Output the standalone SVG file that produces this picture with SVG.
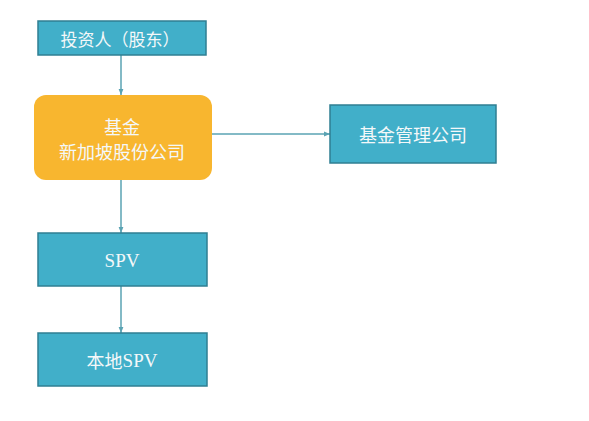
<svg xmlns="http://www.w3.org/2000/svg" width="589" height="421" viewBox="0 0 589 421">
<defs>
<marker id="ah" viewBox="0 0 10 10" refX="10" refY="5" markerWidth="6" markerHeight="6" markerUnits="userSpaceOnUse" orient="auto">
<path d="M0,1 L10,5 L0,9 z" fill="#5aa3b3"/>
</marker>
<style>
.box{fill:#41AFC9;stroke:#2f7f92;stroke-width:1.5}
.org{fill:#F8B62F}
.t{font-family:"Noto Sans CJK SC","Liberation Sans",sans-serif;font-size:18px;fill:#f4f8f9;text-anchor:middle;dominant-baseline:central}
.s{font-family:"Liberation Serif","Noto Sans CJK SC",serif;font-size:19px;fill:#f4f8f9;text-anchor:middle;dominant-baseline:central}
.c{stroke:#5aa3b3;stroke-width:1.5;fill:none;marker-end:url(#ah)}
</style>
</defs>
<rect width="589" height="421" fill="#ffffff"/>
<g id="connectors">
<line class="c" x1="121" y1="55" x2="121" y2="95"/>
<line class="c" x1="212" y1="134" x2="330" y2="134"/>
<line class="c" x1="121" y1="180" x2="121" y2="233"/>
<line class="c" x1="121" y1="286" x2="121" y2="333"/>
</g>
<g id="investor">
<rect class="box" x="38" y="21" width="168" height="34"/>
<text class="t" x="120" y="38" style="font-size:17px">投资人（股东）</text>
</g>
<g id="fund">
<rect class="org" x="34" y="95" width="178" height="85" rx="12" ry="12"/>
<text class="t" x="122" y="126">基金</text>
<text class="t" x="122" y="151">新加坡股份公司</text>
</g>
<g id="manager">
<rect class="box" x="330" y="105" width="166" height="58"/>
<text class="t" x="413" y="134">基金管理公司</text>
</g>
<g id="spv">
<rect class="box" x="38" y="233" width="169" height="53"/>
<text class="s" x="122" y="260">SPV</text>
</g>
<g id="local-spv">
<rect class="box" x="38" y="333" width="169" height="53"/>
<text class="t" x="122" y="360"><tspan>本地</tspan><tspan style="font-family:'Liberation Serif',serif;font-size:19px">SPV</tspan></text>
</g>
</svg>
